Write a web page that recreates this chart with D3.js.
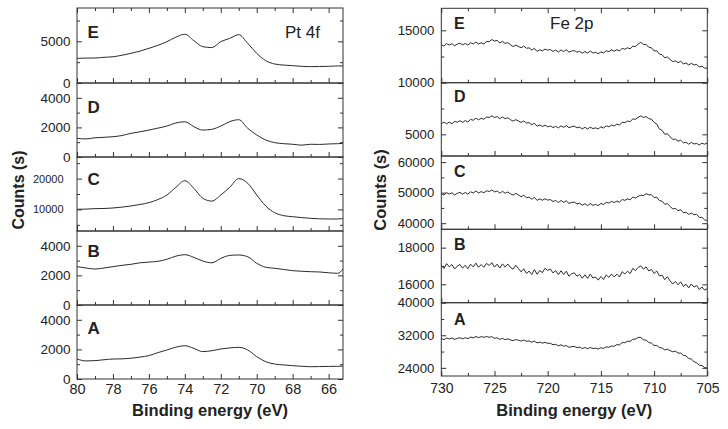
<!DOCTYPE html>
<html>
<head>
<meta charset="utf-8">
<script src="https://cdn.jsdelivr.net/npm/d3@7"></script>
<style>
  body { margin: 0; background: #fff; }
  svg { display: block; font-family: "Liberation Sans", Arial, sans-serif; }
  .frame { fill: none; stroke: #333; stroke-width: 1; }
  .tick line { stroke: #333; }
  .tick text { fill: #222; }
  .spec { fill: none; stroke: #2b2b2b; stroke-width: 1; }
</style>
</head>
<body>
<div id="chart"></div>
<script>
// ---- data ----
const panelLetters = ["E", "D", "C", "B", "A"];

// Pt 4f, binding energy (eV)
const ptEnergy = [80, 79.5, 79, 78.5, 78, 77.5, 77, 76.5, 76, 75.5, 75, 74.5, 74, 73.5, 73, 72.5,
    72, 71.5, 71, 70.5, 70, 69.5, 69, 68.5, 68, 67.5, 67, 66.5, 66, 65.5, 65.2];
const ptE = [2960, 2990, 3000, 3080, 3150, 3330, 3560, 3820, 4160, 4520, 4960, 5500, 5850, 5080, 4360, 4250,
    4960, 5360, 5800, 4760, 3560, 2680, 2280, 2150, 2080, 2000, 1960, 1980, 2000, 2050, 2040];
const ptD = [1260, 1220, 1300, 1330, 1370, 1450, 1600, 1700, 1820, 1950, 2090, 2300, 2380, 2050, 1820, 1870,
    2090, 2390, 2520, 1940, 1490, 1150, 970, 900, 860, 800, 860, 850, 880, 900, 920];
const ptC = [10040, 10100, 10250, 10300, 10460, 10750, 11110, 11600, 12190, 13200, 14680, 17170, 19300, 16850, 13600, 12700,
    14680, 17170, 20000, 18470, 14680, 11110, 8940, 7970, 7640, 7350, 7100, 6950, 6890, 6900, 7000];
const ptB = [2590, 2500, 2430, 2500, 2590, 2680, 2750, 2850, 2900, 2950, 3090, 3300, 3400, 3220, 2970, 2850,
    3150, 3350, 3380, 3260, 2820, 2550, 2480, 2400, 2320, 2280, 2250, 2230, 2180, 2140, 2430];
const ptA = [1350, 1220, 1240, 1300, 1350, 1360, 1400, 1480, 1580, 1780, 1960, 2150, 2250, 2070, 1850, 1910,
    2030, 2100, 2140, 1960, 1510, 1170, 1010, 950, 900, 860, 830, 840, 850, 860, 870];

// Fe 2p, binding energy (eV)
const feEnergy = [730, 729.75, 729.5, 729.25, 729, 728.75, 728.5, 728.25, 728, 727.75, 727.5, 727.25,
    727, 726.75, 726.5, 726.25, 726, 725.75, 725.5, 725.25, 725, 724.75, 724.5, 724.25,
    724, 723.75, 723.5, 723.25, 723, 722.75, 722.5, 722.25, 722, 721.75, 721.5, 721.25,
    721, 720.75, 720.5, 720.25, 720, 719.75, 719.5, 719.25, 719, 718.75, 718.5, 718.25,
    718, 717.75, 717.5, 717.25, 717, 716.75, 716.5, 716.25, 716, 715.75, 715.5, 715.25,
    715, 714.75, 714.5, 714.25, 714, 713.75, 713.5, 713.25, 713, 712.75, 712.5, 712.25,
    712, 711.75, 711.5, 711.25, 711, 710.75, 710.5, 710.25, 710, 709.75, 709.5, 709.25,
    709, 708.75, 708.5, 708.25, 708, 707.75, 707.5, 707.25, 707, 706.75, 706.5, 706.25,
    706, 705.75, 705.5, 705.25, 705];
const feE = [13620, 13500, 13730, 13600, 13720, 13520, 13680, 13770, 13610, 13745, 13590, 13815,
    13700, 13885, 13690, 13815, 13700, 13935, 13920, 14120, 13970, 14040, 13800, 13945,
    13750, 13825, 13620, 13450, 13580, 13460, 13330, 13500, 13290, 13325, 13120, 13275,
    12980, 13140, 13040, 13210, 13100, 13165, 12990, 13110, 12930, 13125, 12970, 13140,
    12910, 13015, 13070, 12915, 12990, 12815, 12980, 12815, 13020, 12840, 12895, 12765,
    12940, 12835, 13050, 12965, 13130, 13010, 13150, 13025, 13290, 13190, 13330, 13230,
    13480, 13450, 13680, 13850, 13640, 13650, 13380, 13335, 13030, 13050, 12730, 12670,
    12380, 12460, 12210, 12015, 12080, 11910, 12040, 11800, 11880, 11690, 11850, 11690,
    11740, 11500, 11570, 11385, 11400];
const feD = [6010, 6190, 6020, 6170, 6030, 6250, 6170, 6320, 6160, 6330, 6200, 6445,
    6360, 6560, 6400, 6550, 6460, 6670, 6630, 6790, 6630, 6720, 6520, 6680,
    6510, 6605, 6420, 6280, 6420, 6290, 6150, 6300, 6090, 6125, 5920, 6075,
    5790, 5900, 5760, 5885, 5730, 5810, 5650, 5780, 5620, 5820, 5680, 5850,
    5640, 5740, 5790, 5630, 5700, 5520, 5680, 5510, 5700, 5555, 5630, 5525,
    5720, 5610, 5820, 5735, 5900, 5815, 5990, 5895, 6180, 6120, 6290, 6220,
    6500, 6450, 6650, 6780, 6640, 6720, 6520, 6470, 6150, 6000, 5520, 5380,
    5010, 5050, 4760, 4515, 4530, 4335, 4430, 4175, 4230, 4045, 4210, 4060,
    4120, 3975, 4140, 4045, 4150];
const feC = [49710, 49235, 50010, 49540, 49970, 49245, 49770, 50100, 49530, 50045, 49510, 50280,
    49900, 50565, 49880, 50345, 49960, 50615, 50370, 50880, 50240, 50550, 49820, 50435,
    49800, 50210, 49620, 49185, 49750, 49250, 48660, 49170, 48330, 48540, 47850, 48465,
    47480, 47945, 47510, 48025, 47540, 47745, 47100, 47455, 46760, 47415, 46820, 47325,
    46480, 46770, 46910, 46305, 46550, 45890, 46380, 45770, 46410, 45860, 46110, 45765,
    46470, 46085, 46850, 46565, 47130, 46765, 47250, 46835, 47770, 47465, 47960, 47655,
    48550, 48225, 48800, 49165, 49030, 49640, 49300, 49325, 48400, 48500, 47400, 47205,
    46210, 46420, 45480, 44690, 44850, 44075, 44400, 43425, 43600, 42855, 43360, 42770,
    42880, 41865, 41950, 41085, 40920];
const feB = [17050, 16865, 17130, 16955, 17080, 16835, 16990, 17085, 16880, 17040, 16850, 17100,
    16950, 17155, 16930, 17080, 16930, 17140, 17030, 17180, 16940, 17100, 16890, 17115,
    16940, 17110, 16920, 16825, 17040, 16865, 16680, 16850, 16590, 16720, 16540, 16805,
    16550, 16750, 16640, 16875, 16760, 16835, 16620, 16750, 16530, 16740, 16540, 16715,
    16440, 16570, 16630, 16445, 16540, 16330, 16520, 16325, 16560, 16345, 16400, 16230,
    16430, 16270, 16510, 16380, 16560, 16405, 16560, 16400, 16690, 16565, 16720, 16585,
    16870, 16750, 16920, 17010, 16830, 16950, 16730, 16815, 16590, 16730, 16460, 16500,
    16260, 16420, 16190, 16015, 16160, 15975, 16140, 15885, 16010, 15805, 16020, 15850,
    15940, 15715, 15860, 15685, 15770];
const feA = [31170, 30930, 31330, 31100, 31320, 30990, 31240, 31400, 31130, 31400, 31170, 31550,
    31380, 31705, 31430, 31660, 31500, 31715, 31510, 31650, 31260, 31375, 31000, 31230,
    30920, 31120, 30850, 30680, 30950, 30770, 30570, 30850, 30540, 30610, 30290, 30570,
    30120, 30305, 30070, 30270, 30010, 30045, 29670, 29790, 29420, 29655, 29320, 29480,
    29040, 29200, 29260, 28975, 29070, 28750, 29000, 28700, 29000, 28730, 28840, 28630,
    28930, 28780, 29150, 29055, 29360, 29315, 29700, 29645, 30210, 30180, 30530, 30485,
    31020, 31045, 31470, 31470, 30900, 30800, 30230, 30075, 29480, 29515, 28980, 28885,
    28400, 28585, 28230, 27950, 28110, 27635, 27630, 27050, 26980, 26280, 26160, 25515,
    25220, 24640, 24580, 24095, 23940];

// y domains and ticks per panel (top to bottom: E, D, C, B, A)
const ptDomains = [[0, 9000], [0, 5000], [3000, 27000], [0, 5000], [0, 5000]];
const ptTicks = [[0, 5000], [0, 2000, 4000], [10000, 20000], [0, 2000, 4000], [0, 2000, 4000]];
const ptMinor = [[2500, 7500], [1000, 3000], [5000, 15000, 25000], [1000, 3000], [1000, 3000]];
const feDomains = [[10000, 17100], [2900, 10000], [38000, 62000], [15000, 19000], [22000, 40000]];
const feTicks = [[10000, 15000], [5000], [40000, 50000, 60000], [16000, 18000], [24000, 32000, 40000]];
const feMinor = [[12500], [7500], [45000, 55000], [17000], [28000, 36000]];

const ptXDomain = [80, 65.2];
const ptXTicks = [80, 78, 76, 74, 72, 70, 68, 66];
const ptXMinor = [79, 77, 75, 73, 71, 69, 67];
const feXDomain = [730, 705];
const feXTicks = [730, 725, 720, 715, 710, 705];
const feXMinor = [727.5, 722.5, 717.5, 712.5, 707.5];

const width = 728, height = 429;

const svg = d3.select("#chart").append("svg")
    .attr("width", width)
    .attr("height", height);

// one column of stacked spectra
function drawColumn(opt) {
    let x = d3.scaleLinear().domain(opt.xDomain).range([opt.left, opt.right]);
    let g = svg.append("g");

    opt.series.forEach((vals, i) => {
        let top = opt.bounds[i], bottom = opt.bounds[i + 1];
        let y = d3.scaleLinear().domain(opt.domains[i]).range([bottom, top]);
        let pg = g.append("g");

        // spectrum
        let line = d3.line()
            .x((d, j) => x(opt.energy[j]))
            .y(d => y(d))
            .curve(opt.curve);
        pg.append("path")
            .datum(vals)
            .attr("class", "spec")
            .attr("d", line);

        // left axis with labels
        let la = pg.append("g").attr("transform", `translate(${opt.left},0)`)
            .call(d3.axisLeft(y).tickValues(opt.ticks[i]).tickSize(-5)
                .tickPadding(opt.labelPad[i]).tickFormat(d3.format("d")));
        la.selectAll("text").style("font-size", opt.labelSize[i] + "px");
        pg.append("g").attr("transform", `translate(${opt.left},0)`)
            .call(d3.axisLeft(y).tickValues(opt.minor[i]).tickSize(-3).tickFormat(""));

        // right axis, ticks only
        pg.append("g").attr("transform", `translate(${opt.right},0)`)
            .call(d3.axisRight(y).tickValues(opt.ticks[i]).tickSize(-5).tickFormat(""));
        pg.append("g").attr("transform", `translate(${opt.right},0)`)
            .call(d3.axisRight(y).tickValues(opt.minor[i]).tickSize(-3).tickFormat(""));

        // bottom ticks, labels only on the last panel
        let last = i === opt.series.length - 1;
        let ba = pg.append("g").attr("transform", `translate(0,${bottom})`)
            .call(d3.axisBottom(x).tickValues(opt.xTicks).tickSize(-5)
                .tickPadding(opt.xPad).tickFormat(last ? d3.format("d") : ""));
        ba.selectAll("text").style("font-size", opt.xSize + "px");
        pg.append("g").attr("transform", `translate(0,${bottom})`)
            .call(d3.axisBottom(x).tickValues(opt.xMinor).tickSize(-3).tickFormat(""));

        if (i === 0) {
            pg.append("g").attr("transform", `translate(0,${top})`)
                .call(d3.axisTop(x).tickValues(opt.xTicks).tickSize(-5).tickFormat(""));
            pg.append("g").attr("transform", `translate(0,${top})`)
                .call(d3.axisTop(x).tickValues(opt.xMinor).tickSize(-3).tickFormat(""));
        }

        // frame
        pg.append("rect")
            .attr("class", "frame")
            .attr("x", opt.left)
            .attr("y", top)
            .attr("width", opt.right - opt.left)
            .attr("height", bottom - top);

        // panel letter
        pg.append("text")
            .attr("x", opt.letterX)
            .attr("y", top + opt.letterDy[i])
            .style("font-size", opt.letterSize + "px")
            .style("font-weight", "bold")
            .style("fill", "#222")
            .text(panelLetters[i]);
    });

    g.selectAll(".domain").remove();

    // element label
    g.append("text")
        .attr("x", opt.titleX)
        .attr("y", opt.titleY)
        .style("font-size", opt.titleSize + "px")
        .style("fill", "#222")
        .text(opt.title);

    // axis titles
    g.append("text")
        .attr("x", (opt.left + opt.right) / 2)
        .attr("y", 416)
        .attr("text-anchor", "middle")
        .style("font-size", "16.5px")
        .style("font-weight", "bold")
        .style("fill", "#222")
        .text("Binding energy (eV)");

    g.append("text")
        .attr("transform", `translate(${opt.yTitleX},190) rotate(-90)`)
        .attr("text-anchor", "middle")
        .style("font-size", opt.yTitleSize + "px")
        .style("font-weight", "bold")
        .style("fill", "#222")
        .text("Counts (s)");
}

drawColumn({
    left: 77, right: 343,
    bounds: [8, 83, 157, 231, 305, 379],
    energy: ptEnergy,
    series: [ptE, ptD, ptC, ptB, ptA],
    curve: d3.curveMonotoneX,
    domains: ptDomains, ticks: ptTicks, minor: ptMinor,
    labelPad: [6.5, 6.5, 13.5, 6.5, 6.5],
    labelSize: [13.5, 13.5, 11, 13.5, 13.5],
    xDomain: ptXDomain, xTicks: ptXTicks, xMinor: ptXMinor,
    xPad: 5, xSize: 14.5,
    letterX: 87.5, letterDy: [30, 29.5, 28, 26, 28.5], letterSize: 17,
    title: "Pt 4f", titleX: 285, titleY: 38, titleSize: 17,
    yTitleX: 24, yTitleSize: 16
});

drawColumn({
    left: 441.3, right: 707.3,
    bounds: [8.3, 82.7, 156, 229.3, 302.7, 376],
    energy: feEnergy,
    series: [feE, feD, feC, feB, feA],
    curve: d3.curveLinear,
    domains: feDomains, ticks: feTicks, minor: feMinor,
    labelPad: [7, 7, 7, 7, 7],
    labelSize: [13.2, 13.2, 13.2, 13.2, 13.2],
    xDomain: feXDomain, xTicks: feXTicks, xMinor: feXMinor,
    xPad: 7.4, xSize: 14,
    letterX: 454, letterDy: [21, 19.5, 21, 21, 22], letterSize: 16,
    title: "Fe 2p", titleX: 550, titleY: 29, titleSize: 17,
    yTitleX: 386, yTitleSize: 16.5
});
</script>
</body>
</html>
